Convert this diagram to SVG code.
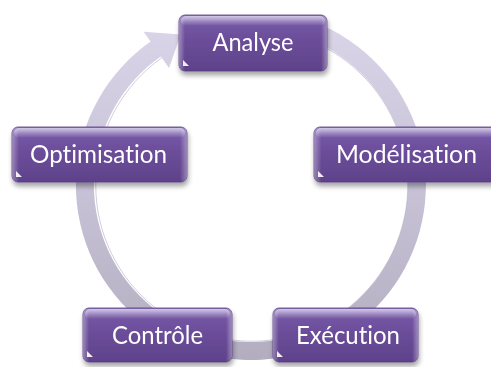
<svg xmlns="http://www.w3.org/2000/svg" width="491" height="367" viewBox="0 0 491 367">
  <defs>
    <linearGradient id="ringGrad" x1="0" y1="0" x2="0" y2="1">
      <stop offset="0" stop-color="#dad5e8"/>
      <stop offset="0.5" stop-color="#c7c2d5"/>
      <stop offset="1" stop-color="#b2adbf"/>
    </linearGradient>
    <linearGradient id="boxGrad" x1="0" y1="0" x2="0" y2="1">
      <stop offset="0" stop-color="#9077c2"/>
      <stop offset="0.12" stop-color="#7457a6"/>
      <stop offset="0.5" stop-color="#6a4c98"/>
      <stop offset="1" stop-color="#5e428a"/>
    </linearGradient>
    <linearGradient id="topGloss" x1="0" y1="0" x2="0" y2="1">
      <stop offset="0" stop-color="#ffffff" stop-opacity="0.6"/>
      <stop offset="1" stop-color="#ffffff" stop-opacity="0"/>
    </linearGradient>
    <linearGradient id="sideGloss" x1="0" y1="0" x2="1" y2="0">
      <stop offset="0" stop-color="#ffffff" stop-opacity="0.35"/>
      <stop offset="0.04" stop-color="#ffffff" stop-opacity="0"/>
      <stop offset="0.96" stop-color="#ffffff" stop-opacity="0"/>
      <stop offset="1" stop-color="#ffffff" stop-opacity="0.35"/>
    </linearGradient>
    <filter id="shadow" x="-10%" y="-20%" width="120%" height="150%">
      <feGaussianBlur in="SourceAlpha" stdDeviation="2.5"/>
      <feOffset dx="1" dy="4" result="b"/>
      <feComponentTransfer><feFuncA type="linear" slope="0.35"/></feComponentTransfer>
      <feMerge><feMergeNode/><feMergeNode in="SourceGraphic"/></feMerge>
    </filter>
    <style>
      .box { fill: url(#boxGrad); stroke: #553a80; stroke-width: 0.8; }
      .gloss { fill: url(#topGloss); }
      .side { fill: url(#sideGloss); }
      .glint { fill: #ffffff; opacity: 0.9; }
      .lbl { font-family: Lato, "Open Sans", "Liberation Sans", sans-serif; font-size: 25px; fill: #ffffff; text-anchor: middle; font-variant-ligatures: none; font-feature-settings: "liga" 0, "clig" 0; }
    </style>
  </defs>

  <g id="connectors">
    <path d="M 296.3 16.0 A 175 175 0 1 1 150.6 41.6 L 143.7 31.8 L 180.8 34.6 L 169.0 67.9 L 160.9 56.4 A 157 157 0 1 0 291.6 33.4 Z" fill="url(#ringGrad)"/>
    <path d="M 290 37 A 153 153 0 1 1 163 60" fill="none" stroke="#ffffff" stroke-width="2" opacity="0.8"/>
    <path d="M 291.9 34.5 A 156 156 0 1 1 161.8 57.8" fill="none" stroke="#9e98b4" stroke-width="0.8" opacity="0.6"/>
  </g>

  <g id="node-analyse" filter="url(#shadow)">
    <rect class="box" x="179" y="15" width="148" height="56" rx="6"/>
    <rect class="gloss" x="181" y="16" width="144" height="10" rx="5"/>
    <rect class="side" x="179" y="15" width="148" height="56" rx="6"/>
    <path class="glint" d="M183 66 L189 66 L183 60 Z"/>
    <text class="lbl" x="253" y="51" textLength="81" lengthAdjust="spacingAndGlyphs">Analyse</text>
  </g>

  <g id="node-modelisation" filter="url(#shadow)">
    <rect class="box" x="314" y="127" width="186" height="55" rx="6"/>
    <rect class="gloss" x="316" y="128" width="182" height="10" rx="5"/>
    <rect class="side" x="314" y="127" width="186" height="55" rx="6"/>
    <path class="glint" d="M318 177 L324 177 L318 171 Z"/>
    <text class="lbl" x="406.5" y="163" textLength="141" lengthAdjust="spacingAndGlyphs">Modélisation</text>
  </g>

  <g id="node-optimisation" filter="url(#shadow)">
    <rect class="box" x="12" y="127" width="175" height="55" rx="6"/>
    <rect class="gloss" x="14" y="128" width="171" height="10" rx="5"/>
    <rect class="side" x="12" y="127" width="175" height="55" rx="6"/>
    <path class="glint" d="M16 177 L22 177 L16 171 Z"/>
    <text class="lbl" x="98.5" y="163" textLength="137" lengthAdjust="spacingAndGlyphs">Optimisation</text>
  </g>

  <g id="node-controle" filter="url(#shadow)">
    <rect class="box" x="83" y="308" width="149" height="54" rx="6"/>
    <rect class="gloss" x="85" y="309" width="145" height="10" rx="5"/>
    <rect class="side" x="83" y="308" width="149" height="54" rx="6"/>
    <path class="glint" d="M87 357 L93 357 L87 351 Z"/>
    <text class="lbl" x="157.5" y="344" textLength="91" lengthAdjust="spacingAndGlyphs">Contrôle</text>
  </g>

  <g id="node-execution" filter="url(#shadow)">
    <rect class="box" x="273" y="308" width="145" height="54" rx="6"/>
    <rect class="gloss" x="275" y="309" width="141" height="10" rx="5"/>
    <rect class="side" x="273" y="308" width="145" height="54" rx="6"/>
    <path class="glint" d="M277 357 L283 357 L277 351 Z"/>
    <text class="lbl" x="348" y="344" textLength="104" lengthAdjust="spacingAndGlyphs">Exécution</text>
  </g>
</svg>
